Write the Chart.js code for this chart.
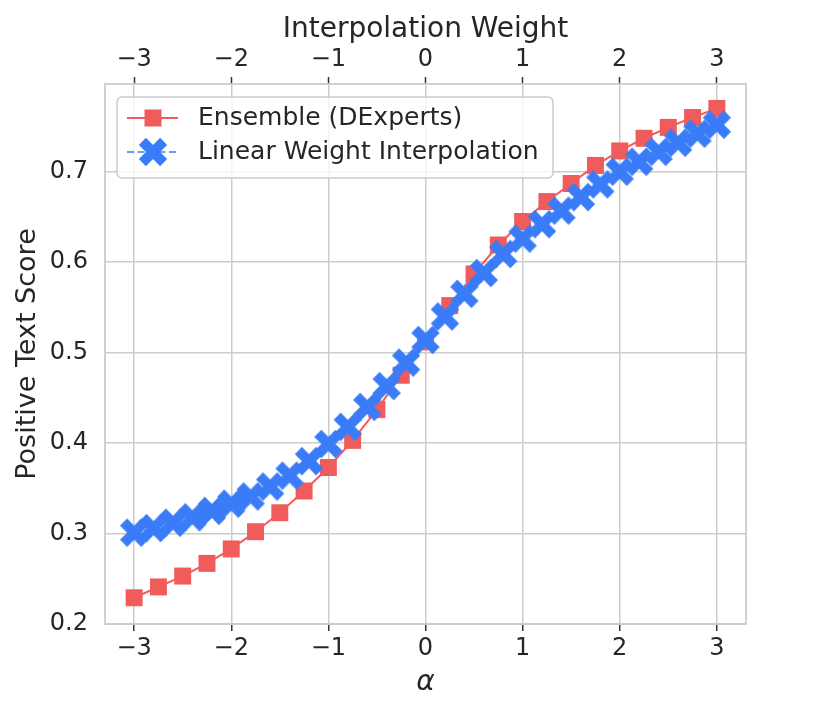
<!DOCTYPE html>
<html>
<head>
<meta charset="utf-8">
<script src="https://cdn.jsdelivr.net/npm/chart.js@4.4.0/dist/chart.umd.min.js"></script>
<style>
  html, body { margin: 0; padding: 0; background: #fff; }
  #wrap { width: 830px; height: 712px; }
</style>
</head>
<body>
<div id="wrap"><canvas id="chart" width="830" height="712"></canvas></div>
<script>
// values
const alphaEnsemble = [-3, -2.75, -2.5, -2.25, -2, -1.75, -1.5, -1.25, -1, -0.75, -0.5, -0.25, 0,
                       0.25, 0.5, 0.75, 1, 1.25, 1.5, 1.75, 2, 2.25, 2.5, 2.75, 3];
const ensembleScore = [0.229, 0.241, 0.253, 0.267, 0.283, 0.302, 0.323, 0.347, 0.373, 0.403, 0.437, 0.475, 0.512,
                       0.552, 0.587, 0.619, 0.645, 0.667, 0.687, 0.707, 0.723, 0.737, 0.749, 0.760, 0.770];

const alphaLinear = [-3, -2.8, -2.6, -2.4, -2.2, -2, -1.8, -1.6, -1.4, -1.2, -1, -0.8, -0.6, -0.4, -0.2, 0,
                     0.2, 0.4, 0.6, 0.8, 1, 1.2, 1.4, 1.6, 1.8, 2, 2.2, 2.4, 2.6, 2.8, 3];
const linearScore = [0.301, 0.306, 0.312, 0.318, 0.325, 0.333, 0.341, 0.352, 0.364, 0.380, 0.399, 0.418, 0.440, 0.463, 0.489, 0.514,
                     0.540, 0.565, 0.588, 0.609, 0.626, 0.642, 0.657, 0.672, 0.686, 0.700, 0.711, 0.722, 0.732, 0.742, 0.752];

const xTicks = [-3, -2, -1, 0, 1, 2, 3];
const yTicks = [0.2, 0.3, 0.4, 0.5, 0.6, 0.7];

const labelEnsemble = 'Ensemble (DExperts)';
const labelLinear = 'Linear Weight Interpolation';

const RED = '#f05c5c';
const BLUE = '#3a7cf8';
const TEXT = '#262626';
const GRID = '#cccccc';

// filled "X" marker like matplotlib's
function makeXMarker(color) {
    const c = document.createElement('canvas');
    c.width = 30; c.height = 30;
    const g = c.getContext('2d');
    const plus = [[-0.5,-1.5],[0.5,-1.5],[0.5,-0.5],[1.5,-0.5],[1.5,0.5],[0.5,0.5],
                  [0.5,1.5],[-0.5,1.5],[-0.5,0.5],[-1.5,0.5],[-1.5,-0.5],[-0.5,-0.5]];
    const u = 10;
    g.beginPath();
    plus.forEach((p, i) => {
        const x = (p[0] - p[1]) / Math.SQRT2 * u + 15;
        const y = (p[0] + p[1]) / Math.SQRT2 * u + 15;
        if (i === 0) g.moveTo(x, y); else g.lineTo(x, y);
    });
    g.closePath();
    g.fillStyle = color;
    g.fill();
    return c;
}
const xMarker = makeXMarker(BLUE);

function fmtTick(v) {
    return v < 0 ? '\u2212' + Math.abs(v) : String(v);
}

Chart.defaults.font.family = "'DejaVu Sans', sans-serif";
Chart.defaults.color = TEXT;

// spines + legend drawn on the canvas
const framePlugin = {
    id: 'frame',
    beforeDatasetsDraw(chart) {
        const a = chart.chartArea, ctx = chart.ctx;
        ctx.save();
        ctx.strokeStyle = GRID;
        ctx.lineWidth = 1.8;
        ctx.strokeRect(a.left, a.top, a.right - a.left, a.bottom - a.top);
        ctx.restore();
    },
    afterDraw(chart) {
        const a = chart.chartArea, ctx = chart.ctx;
        const bx = a.left + 12, by = a.top + 13, bw = 436, bh = 81;
        ctx.save();
        ctx.beginPath();
        ctx.roundRect(bx, by, bw, bh, 5);
        ctx.fillStyle = 'rgba(255,255,255,0.8)';
        ctx.fill();
        ctx.strokeStyle = GRID;
        ctx.lineWidth = 1.5;
        ctx.stroke();

        const lx0 = bx + 10, lx1 = bx + 61, mx = bx + 36;
        const row1 = by + 21, row2 = by + 55;

        ctx.strokeStyle = RED;
        ctx.lineWidth = 2;
        ctx.beginPath(); ctx.moveTo(lx0, row1); ctx.lineTo(lx1, row1); ctx.stroke();
        ctx.fillStyle = RED;
        ctx.fillRect(mx - 8.5, row1 - 8.5, 17, 17);

        ctx.strokeStyle = BLUE;
        ctx.lineWidth = 1.6;
        ctx.setLineDash([7, 3.5]);
        ctx.beginPath(); ctx.moveTo(lx0, row2); ctx.lineTo(lx1, row2); ctx.stroke();
        ctx.setLineDash([]);
        ctx.drawImage(xMarker, mx - 15, row2 - 15);

        ctx.fillStyle = TEXT;
        ctx.font = "25px 'DejaVu Sans', sans-serif";
        ctx.textBaseline = 'middle';
        ctx.textAlign = 'left';
        ctx.fillText(labelEnsemble, bx + 81, row1);
        ctx.fillText(labelLinear, bx + 81, row2);
        ctx.restore();
    }
};

const setTicks = arr => scale => { scale.ticks = arr.map(v => ({ value: v })); };

new Chart(document.getElementById('chart'), {
    type: 'scatter',
    data: {
        datasets: [
            {
                label: labelEnsemble,
                data: alphaEnsemble.map((x, i) => ({ x: x, y: ensembleScore[i] })),
                showLine: true,
                borderColor: RED,
                borderWidth: 2,
                backgroundColor: RED,
                pointStyle: 'rect',
                pointRadius: 12,
                pointBorderWidth: 0,
                order: 2
            },
            {
                label: labelLinear,
                data: alphaLinear.map((x, i) => ({ x: x, y: linearScore[i] })),
                showLine: true,
                borderColor: BLUE,
                borderWidth: 1.6,
                borderDash: [7, 3.5],
                backgroundColor: BLUE,
                pointStyle: xMarker,
                pointRadius: 14,
                order: 1
            }
        ]
    },
    options: {
        responsive: false,
        animation: false,
        events: [],
        devicePixelRatio: 1,
        layout: { padding: { left: 0, right: 84, top: 0, bottom: 0 } },
        plugins: { legend: { display: false }, tooltip: { enabled: false } },
        scales: {
            x: {
                type: 'linear', position: 'bottom', min: -3.3, max: 3.3,
                afterBuildTicks: setTicks(xTicks),
                afterFit: s => { s.height = 88; },
                grid: { color: GRID, lineWidth: 1.5, tickColor: '#333', tickLength: 7, tickWidth: 1.5 },
                border: { display: false },
                ticks: { font: { size: 24 }, padding: 3, maxRotation: 0, callback: fmtTick },
                title: { display: true, text: 'α', font: { size: 28, style: 'italic' }, padding: { bottom: 12, top: 0 } }
            },
            x2: {
                type: 'linear', position: 'top', min: -3.3, max: 3.3,
                afterBuildTicks: setTicks(xTicks),
                afterFit: s => { s.height = 84; },
                grid: { drawOnChartArea: false, color: GRID, tickColor: '#333', tickLength: 7, tickWidth: 1.5 },
                border: { display: false },
                ticks: { font: { size: 24 }, padding: 3, maxRotation: 0, callback: fmtTick },
                title: { display: true, text: 'Interpolation Weight', font: { size: 28 }, padding: { top: 13, bottom: 0 } }
            },
            y: {
                type: 'linear', position: 'left', min: 0.2, max: 0.797,
                afterBuildTicks: setTicks(yTicks),
                afterFit: s => { s.width = 105; },
                grid: { color: GRID, lineWidth: 1.5, drawTicks: false },
                border: { display: false },
                ticks: { font: { size: 24 }, padding: 17, callback: v => v.toFixed(1) },
                title: { display: true, text: 'Positive Text Score', font: { size: 27 }, padding: { top: 12, bottom: 0 } }
            }
        }
    },
    plugins: [framePlugin]
});
</script>
</body>
</html>
